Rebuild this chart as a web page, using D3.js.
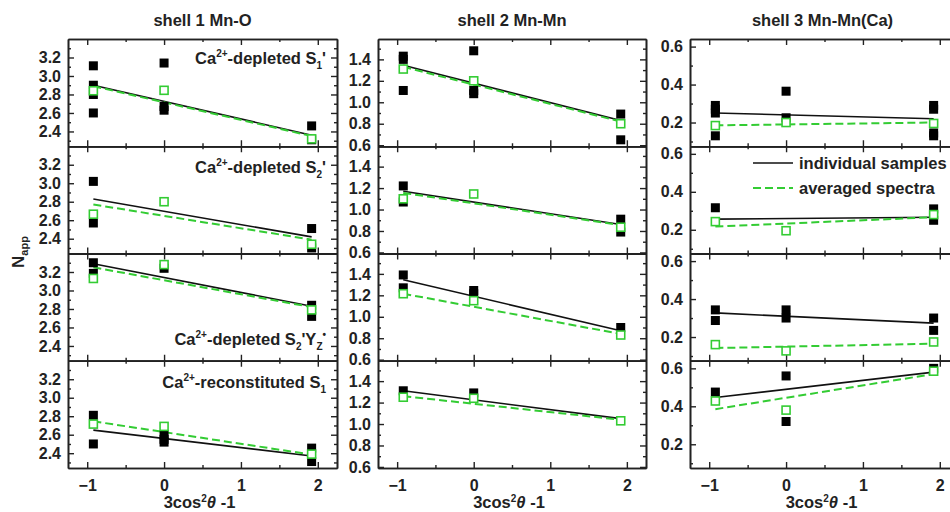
<!DOCTYPE html>
<meta charset="utf-8">
<style>
  body { margin: 0; background: #fff; }
  text { font-family: "Liberation Sans", Arial, sans-serif; font-weight: bold; fill: #222; }
</style>
<body>
<div id="chart"></div>
<script src="https://d3js.org/d3.v7.min.js"></script>
<script>

// column titles (one per shell)
const shells = ["shell 1 Mn-O", "shell 2 Mn-Mn", "shell 3 Mn-Mn(Ca)"];

// x positions of the three orientations (3cos^2(theta)-1)
const xVals = [-0.92, 0, 1.92];
const xMajor = [-1, 0, 1, 2];
const xMinor = [-0.5, 0.5, 1.5];

// y ranges and ticks, per shell
const yDomains = [[2.24, 3.4], [0.59, 1.59], [0.075, 0.64]];
const yMajor = [[2.4, 2.6, 2.8, 3.0, 3.2], [0.6, 0.8, 1.0, 1.2, 1.4], [0.2, 0.4, 0.6]];
const yMinor = [[2.3, 2.5, 2.7, 2.9, 3.1, 3.3], [0.7, 0.9, 1.1, 1.3, 1.5], [0.1, 0.3, 0.5]];

// sample labels: [text, "sup"|"sub"|undefined]
const sampleLabels = [
  [["Ca"], ["2+", "sup"], ["-depleted S"], ["1", "sub"], ["'"]],
  [["Ca"], ["2+", "sup"], ["-depleted S"], ["2", "sub"], ["'"]],
  [["Ca"], ["2+", "sup"], ["-depleted S"], ["2", "sub"], ["'Y"], ["Z", "sub"], ["\u2022", "sup"]],
  [["Ca"], ["2+", "sup"], ["-reconstituted S"], ["1", "sub"]]
];

// individual samples: per shell, values at each of the three x positions
const indivDepS1   = [[[3.11, 2.90, 2.80, 2.60], [3.14, 2.67, 2.63], [2.46, 2.31]],
                      [[1.43, 1.40, 1.11], [1.48, 1.11, 1.08], [0.89, 0.65]],
                      [[0.29, 0.27, 0.25, 0.13], [0.365, 0.225], [0.29, 0.27, 0.145, 0.13]]];
const indivDepS2   = [[[3.02, 2.57], [], [2.51, 2.30]],
                      [[1.22, 1.07], [], [0.91, 0.79]],
                      [[0.316], [], [0.31, 0.25]]];
const indivDepS2Yz = [[[3.30, 3.185], [3.24], [2.84, 2.72]],
                      [[1.39, 1.27], [1.245, 1.215], [0.90]],
                      [[0.343, 0.287], [0.343, 0.30], [0.30, 0.235]]];
const indivRecS1   = [[[2.81, 2.50], [2.60, 2.55, 2.52], [2.455, 2.31]],
                      [[1.31], [1.29], []],
                      [[0.475], [0.56, 0.32], [0.60]]];

// averaged spectra, one value per x position
const avgDepS1   = [[2.84, 2.845, 2.32], [1.31, 1.20, 0.80], [0.184, 0.20, 0.195]];
const avgDepS2   = [[2.665, 2.80, 2.34], [1.10, 1.145, 0.835], [0.243, 0.195, 0.28]];
const avgDepS2Yz = [[3.13, 3.28, 2.79], [1.215, 1.15, 0.83], [0.16, 0.127, 0.174]];
const avgRecS1   = [[2.715, 2.69, 2.39], [1.25, 1.24, 1.03], [0.428, 0.38, 0.585]];

// linear fits, value at first and last x position
const fitIndivDepS1   = [[2.90, 2.36], [1.345, 0.83], [0.25, 0.22]];
const fitIndivDepS2   = [[2.83, 2.42], [1.17, 0.86], [0.256, 0.266]];
const fitIndivDepS2Yz = [[3.29, 2.83], [1.345, 0.87], [0.327, 0.273]];
const fitIndivRecS1   = [[2.65, 2.37], [1.31, 1.05], [0.446, 0.58]];
const fitAvgDepS1     = [[2.89, 2.35], [1.33, 0.82], [0.185, 0.20]];
const fitAvgDepS2     = [[2.77, 2.39], [1.155, 0.855], [0.217, 0.266]];
const fitAvgDepS2Yz   = [[3.25, 2.82], [1.215, 0.84], [0.142, 0.165]];
const fitAvgRecS1     = [[2.745, 2.385], [1.26, 1.04], [0.385, 0.57]];

const indiv = [indivDepS1, indivDepS2, indivDepS2Yz, indivRecS1];
const avg = [avgDepS1, avgDepS2, avgDepS2Yz, avgRecS1];
const fitIndiv = [fitIndivDepS1, fitIndivDepS2, fitIndivDepS2Yz, fitIndivRecS1];
const fitAvg = [fitAvgDepS1, fitAvgDepS2, fitAvgDepS2Yz, fitAvgRecS1];

// layout
const W = 950, H = 512;
const colX = [[68, 337], [378, 646], [690, 959]];
const top0 = 39, rowH = 107.25;
const green = "#33cc33";

const svg = d3.select("#chart").append("svg")
  .attr("width", W).attr("height", H);

function styleAxis(g, labels) {
  g.select(".domain").attr("stroke", "#222").attr("stroke-width", 1.6);
  g.selectAll(".tick line").attr("stroke", "#222").attr("stroke-width", 1.4);
  g.selectAll("text").attr("font-size", null).attr("font-family", null)
    .style("font-size", "16px").attr("fill", "#222");
  if (!labels) g.selectAll("text").remove();
  g.attr("font-family", null).attr("font-size", null);
}

for (let r = 0; r < 4; r++) {
  for (let c = 0; c < 3; c++) {
    const y0 = top0 + r * rowH, y1 = y0 + rowH;
    const x = d3.scaleLinear().domain([-1.25, 2.25]).range(colX[c]);
    const y = d3.scaleLinear().domain(yDomains[c]).range([y1, y0]);
    const g = svg.append("g");

    // axes: ticks inside on all four sides
    const mk = (axisFn, scale, vals, size, pad, fmt) =>
      axisFn(scale).tickValues(vals).tickSizeInner(size).tickSizeOuter(0).tickPadding(pad).tickFormat(fmt);

    const bottom = g.append("g").attr("transform", `translate(0,${y1})`);
    bottom.append("g").call(mk(d3.axisBottom, x, xMajor, -6, 12, d3.format("d"))).call(a => styleAxis(a, r === 3));
    bottom.append("g").call(mk(d3.axisBottom, x, xMinor, -3, 0, "")).call(a => styleAxis(a, false));
    const topA = g.append("g").attr("transform", `translate(0,${y0})`);
    topA.append("g").call(mk(d3.axisTop, x, xMajor, -6, 0, "")).call(a => styleAxis(a, false));
    topA.append("g").call(mk(d3.axisTop, x, xMinor, -3, 0, "")).call(a => styleAxis(a, false));
    const left = g.append("g").attr("transform", `translate(${colX[c][0]},0)`);
    left.append("g").call(mk(d3.axisLeft, y, yMajor[c], -6, 7, d3.format(".1f"))).call(a => styleAxis(a, true));
    left.append("g").call(mk(d3.axisLeft, y, yMinor[c], -3, 0, "")).call(a => styleAxis(a, false));
    const right = g.append("g").attr("transform", `translate(${colX[c][1]},0)`);
    right.append("g").call(mk(d3.axisRight, y, yMajor[c], -6, 0, "")).call(a => styleAxis(a, false));
    right.append("g").call(mk(d3.axisRight, y, yMinor[c], -3, 0, "")).call(a => styleAxis(a, false));

    const line = d3.line().x(d => x(d[0])).y(d => y(d[1]));
    const ends = [xVals[0], xVals[2]];

    // fit lines
    g.append("path")
      .datum(ends.map((xv, i) => [xv, fitIndiv[r][c][i]]))
      .attr("d", line).attr("fill", "none").attr("stroke", "#111").attr("stroke-width", 1.6);
    g.append("path")
      .datum(ends.map((xv, i) => [xv, fitAvg[r][c][i]]))
      .attr("d", line).attr("fill", "none").attr("stroke", green)
      .attr("stroke-width", 2).attr("stroke-dasharray", "8,4");

    // individual samples: filled black squares
    const pts = [];
    indiv[r][c].forEach((vals, i) => vals.forEach(v => pts.push([xVals[i], v])));
    g.selectAll(".ind").data(pts).join("rect").attr("class", "ind")
      .attr("x", d => x(d[0]) - 4.5).attr("y", d => y(d[1]) - 4.5)
      .attr("width", 9).attr("height", 9).attr("fill", "#000");

    // averaged spectra: open green squares
    g.selectAll(".avg").data(avg[r][c].map((v, i) => [xVals[i], v])).join("rect").attr("class", "avg")
      .attr("x", d => x(d[0]) - 4).attr("y", d => y(d[1]) - 4)
      .attr("width", 8).attr("height", 8).attr("fill", "#fff")
      .attr("stroke", green).attr("stroke-width", 1.6);
  }
}

// column titles
svg.selectAll(".title").data(shells).join("text").attr("class", "title")
  .attr("x", (d, i) => (colX[i][0] + colX[i][1]) / 2 - (i === 2 ? 2 : 0)).attr("y", 26)
  .attr("text-anchor", "middle").style("font-size", "16.5px").text(d => d);

// x axis titles
colX.forEach(cx => {
  const t = svg.append("text").attr("x", (cx[0] + cx[1]) / 2 - 3).attr("y", 508)
    .attr("text-anchor", "middle").style("font-size", "16.5px");
  t.append("tspan").text("3cos");
  t.append("tspan").attr("dy", -6).style("font-size", "10px").text("2");
  t.append("tspan").attr("dy", 6).style("font-style", "italic").text("\u03b8");
  t.append("tspan").text(" -1");
});

// y axis title
const yt = svg.append("text").attr("transform", "translate(24,252) rotate(-90)")
  .attr("text-anchor", "middle").style("font-size", "17px");
yt.append("tspan").text("N");
yt.append("tspan").attr("dy", 4).style("font-size", "11px").text("app");

// sample labels in first column
const labelY = [25, 27, 91, 27];
sampleLabels.forEach((segs, r) => {
  const t = svg.append("text").attr("x", 326).attr("y", top0 + r * rowH + labelY[r])
    .attr("text-anchor", "end").style("font-size", "16.5px");
  let off = 0;
  segs.forEach(([s, k]) => {
    const want = k === "sup" ? -7 : k === "sub" ? 5 : 0;
    t.append("tspan").attr("dy", want - off)
      .style("font-size", k ? "10px" : null).text(s);
    off = want;
  });
});

// legend in shell 3, second row
const lg = svg.append("g");
const legY = [163, 188];
lg.append("line").attr("x1", 753).attr("x2", 793).attr("y1", legY[0]).attr("y2", legY[0])
  .attr("stroke", "#111").attr("stroke-width", 1.6);
lg.append("line").attr("x1", 753).attr("x2", 793).attr("y1", legY[1]).attr("y2", legY[1])
  .attr("stroke", green).attr("stroke-width", 2).attr("stroke-dasharray", "8,4");
lg.append("text").attr("x", 799).attr("y", legY[0] + 6).style("font-size", "16.5px").text("individual samples");
lg.append("text").attr("x", 799).attr("y", legY[1] + 6).style("font-size", "16.5px").text("averaged spectra");

</script>
</body>
